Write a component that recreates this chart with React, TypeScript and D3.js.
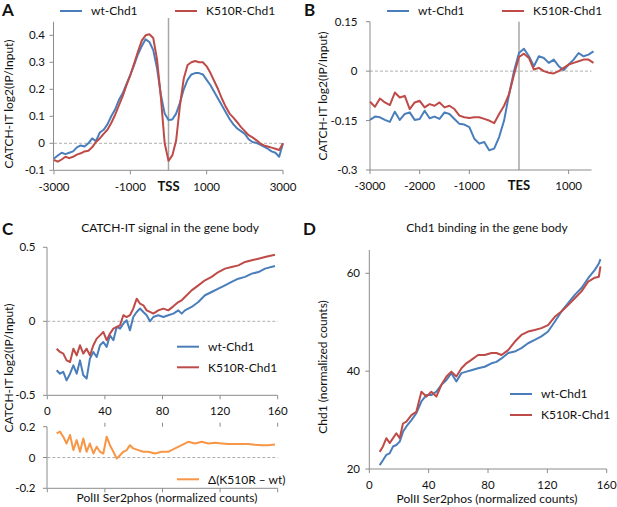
import * as d3 from "d3";

// ---------- data ----------
// A: CATCH-IT around TSS
const A_X = [-3000, -2900, -2800, -2700, -2600, -2500, -2400, -2300, -2200, -2100, -2000, -1900, -1800, -1700, -1600, -1500, -1400, -1300, -1200, -1100, -1000, -900, -800, -700, -600, -500, -400, -300, -200, -100, 0, 100, 200, 300, 400, 500, 600, 700, 800, 900, 1000, 1100, 1200, 1300, 1400, 1500, 1600, 1700, 1800, 1900, 2000, 2100, 2200, 2300, 2400, 2500, 2600, 2700, 2800, 2900, 3000];
const A_WT = [-0.056, -0.045, -0.035, -0.04, -0.035, -0.03, -0.015, -0.008, -0.012, 0.0, 0.018, 0.008, 0.04, 0.05, 0.07, 0.1, 0.125, 0.16, 0.185, 0.22, 0.253, 0.29, 0.33, 0.36, 0.385, 0.375, 0.345, 0.278, 0.18, 0.11, 0.086, 0.088, 0.11, 0.15, 0.2, 0.235, 0.255, 0.26, 0.26, 0.255, 0.235, 0.215, 0.19, 0.165, 0.14, 0.115, 0.09, 0.07, 0.055, 0.045, 0.035, 0.015, 0.005, 0.002, -0.005, -0.012, -0.02, -0.03, -0.035, -0.05, 0.0];
const A_K510R = [-0.062, -0.068, -0.06, -0.05, -0.055, -0.05, -0.042, -0.037, -0.03, -0.028, -0.015, 0.005, 0.018, 0.035, 0.05, 0.075, 0.105, 0.14, 0.175, 0.215, 0.253, 0.295, 0.34, 0.38, 0.4, 0.404, 0.39, 0.31, 0.17, 0.0, -0.065, -0.045, 0.01, 0.14, 0.24, 0.29, 0.3, 0.305, 0.3, 0.3, 0.285, 0.26, 0.23, 0.2, 0.165, 0.135, 0.11, 0.095, 0.078, 0.06, 0.045, 0.03, 0.022, 0.012, 0.0, -0.008, -0.012, -0.016, -0.02, -0.025, 0.0];
const A_YTICKS = [-0.1, 0, 0.1, 0.2, 0.3, 0.4];
const A_XTICKS = [-3000, -1000, 0, 1000, 3000];
const A_XLABELS = ["-3000", "-1000", "TSS", "1000", "3000"];

// B: CATCH-IT around TES
const B_X = [-3000, -2900, -2800, -2700, -2600, -2500, -2400, -2300, -2200, -2100, -2000, -1900, -1800, -1700, -1600, -1500, -1400, -1300, -1200, -1100, -1000, -900, -800, -700, -600, -500, -400, -300, -200, -100, 0, 100, 200, 300, 400, 500, 600, 700, 800, 900, 1000, 1100, 1200, 1300, 1400, 1500];
const B_WT = [-0.148, -0.138, -0.14, -0.148, -0.154, -0.123, -0.148, -0.13, -0.125, -0.148, -0.145, -0.12, -0.143, -0.138, -0.145, -0.125, -0.13, -0.145, -0.16, -0.162, -0.17, -0.205, -0.22, -0.215, -0.24, -0.235, -0.2, -0.15, -0.07, 0.0, 0.055, 0.068, 0.045, 0.015, 0.045, 0.04, 0.025, 0.035, 0.015, 0.003, 0.02, 0.035, 0.055, 0.045, 0.05, 0.06];
const B_K510R = [-0.093, -0.108, -0.083, -0.095, -0.103, -0.065, -0.08, -0.075, -0.115, -0.095, -0.09, -0.11, -0.1, -0.105, -0.095, -0.11, -0.105, -0.115, -0.135, -0.14, -0.142, -0.14, -0.14, -0.145, -0.15, -0.158, -0.13, -0.105, -0.07, -0.01, 0.043, 0.053, 0.04, 0.005, 0.01, 0.0, -0.005, -0.007, 0.0, 0.01, 0.02, 0.025, 0.03, 0.035, 0.035, 0.025];
const B_YTICKS = [-0.3, -0.15, 0, 0.15];
const B_XTICKS = [-3000, -2000, -1000, 0, 1000];
const B_XLABELS = ["-3000", "-2000", "-1000", "TES", "1000"];

// C: CATCH-IT vs PolII Ser2phos
const C_X = [6.5, 8.8, 11.1, 13.4, 15.8, 18.1, 20.4, 22.7, 25.0, 27.3, 29.6, 32.0, 34.3, 36.6, 38.9, 41.2, 43.5, 45.9, 48.2, 50.5, 52.8, 55.1, 57.4, 59.7, 62.1, 64.4, 66.7, 69.0, 71.3, 73.6, 77.1, 80.6, 84.0, 87.5, 91.0, 93.3, 95.6, 100.2, 104.9, 109.5, 114.1, 118.8, 123.4, 128.0, 132.7, 137.3, 142.0, 146.6, 151.2, 158.1];
const C_WT = [-0.331, -0.354, -0.342, -0.399, -0.354, -0.297, -0.354, -0.264, -0.365, -0.387, -0.252, -0.207, -0.241, -0.162, -0.14, -0.173, -0.095, -0.128, -0.038, -0.05, -0.016, 0.007, -0.061, 0.029, 0.063, 0.086, 0.063, 0.041, 0.0, 0.029, 0.041, 0.029, 0.041, 0.052, 0.074, 0.052, 0.074, 0.097, 0.13, 0.176, 0.198, 0.221, 0.243, 0.266, 0.288, 0.3, 0.322, 0.333, 0.356, 0.374];
const C_K510R = [-0.185, -0.207, -0.218, -0.264, -0.275, -0.185, -0.23, -0.162, -0.218, -0.185, -0.23, -0.162, -0.117, -0.095, -0.072, -0.128, -0.083, -0.05, -0.038, -0.027, 0.041, 0.029, 0.041, 0.086, 0.153, 0.119, 0.108, 0.074, 0.063, 0.052, 0.074, 0.086, 0.074, 0.101, 0.13, 0.142, 0.164, 0.209, 0.243, 0.277, 0.3, 0.333, 0.356, 0.367, 0.378, 0.401, 0.412, 0.423, 0.435, 0.45];
const C_DX = [6.5, 8.8, 11.1, 13.4, 15.8, 18.1, 20.4, 22.7, 25.0, 27.3, 29.6, 32.0, 34.3, 36.6, 38.9, 41.2, 43.5, 45.9, 48.2, 50.5, 52.8, 55.1, 57.4, 59.7, 63.2, 66.7, 70.1, 74.8, 79.4, 84.0, 88.7, 93.3, 97.9, 102.6, 107.2, 111.8, 116.5, 121.1, 125.7, 130.4, 135.0, 139.6, 144.2, 148.9, 153.5, 158.1];
const C_DELTA = [0.157, 0.168, 0.135, 0.091, 0.146, 0.048, 0.113, 0.037, 0.124, 0.037, 0.091, 0.026, 0.07, 0.037, 0.026, 0.135, 0.08, 0.037, -0.007, 0.015, 0.037, 0.048, 0.08, 0.059, 0.048, 0.037, 0.037, 0.026, 0.037, 0.037, 0.059, 0.08, 0.102, 0.091, 0.102, 0.091, 0.095, 0.091, 0.087, 0.087, 0.087, 0.087, 0.083, 0.08, 0.08, 0.085];
const C_YTICKS = [-0.5, 0, 0.5];
const C_DYTICKS = [-0.2, 0, 0.2];
const XTICKS_160 = [0, 40, 80, 120, 160];

// D: Chd1 binding vs PolII Ser2phos
const D_X = [7.0, 9.2, 11.5, 13.7, 16.0, 18.2, 20.5, 22.7, 25.0, 28.4, 31.7, 35.1, 38.5, 41.8, 45.2, 48.6, 52.0, 55.3, 58.7, 62.1, 65.4, 68.8, 73.3, 77.8, 82.3, 85.7, 89.1, 93.6, 98.0, 102.5, 107.0, 111.5, 116.0, 120.5, 125.0, 129.5, 134.0, 138.5, 143.0, 147.5, 152.0, 154.7, 155.8];
const D_WT = [20.8, 21.8, 22.9, 23.2, 24.6, 24.9, 25.6, 27.6, 28.7, 30.0, 31.4, 33.8, 35.1, 35.1, 35.8, 37.2, 38.2, 39.6, 37.9, 39.6, 39.9, 40.2, 40.6, 40.9, 41.6, 41.9, 42.6, 43.7, 44.0, 44.7, 45.7, 46.4, 47.1, 48.1, 50.1, 52.2, 53.9, 55.6, 57.0, 59.0, 60.7, 62.0, 62.9];
const D_K510R = [23.5, 24.6, 26.3, 25.3, 26.3, 27.3, 26.3, 29.3, 29.7, 31.0, 31.7, 35.8, 34.8, 35.8, 34.8, 37.2, 38.9, 39.9, 38.9, 40.6, 41.6, 42.3, 43.3, 43.3, 43.7, 43.7, 43.3, 44.3, 46.0, 47.4, 48.1, 48.4, 48.8, 49.4, 51.1, 52.2, 53.5, 54.9, 56.3, 58.3, 59.1, 59.3, 61.4];
const D_YTICKS = [20, 40, 60];

// ---------- style ----------
const BLUE = "#4a7ebb";
const RED = "#be4b48";
const ORANGE = "#f79646";
const AXIS = "#8c8c8c";
const GRID = "#a6a6a6";
const FONT = "Lato, 'Open Sans', sans-serif";

type Scale = d3.ScaleLinear<number, number>;

function Series({ x, y, xs, ys, color }: { x: Scale; y: Scale; xs: number[]; ys: number[]; color: string }) {
  const line = d3.line<number>().x((d) => x(d)).y((_, i) => y(ys[i]));
  return <path d={line(xs) ?? ""} fill="none" stroke={color} strokeWidth={2} strokeLinejoin="round" />;
}

function YAxis({ y, x0, ticks, top, labelX }: { y: Scale; x0: number; ticks: number[]; top?: number; labelX: number }) {
  const r = y.range();
  return (
    <g>
      <line x1={x0} x2={x0} y1={r[0]} y2={top ?? r[1]} stroke={AXIS} />
      {ticks.map((t) => (
        <g key={t}>
          <line x1={x0 - 4} x2={x0} y1={y(t)} y2={y(t)} stroke={AXIS} />
          <text x={labelX} y={y(t)} dy="0.35em" textAnchor="end" fontSize={11.5}>{String(t)}</text>
        </g>
      ))}
    </g>
  );
}

function XAxis({ x, y0, ticks, labels, labelY, skip }: { x: Scale; y0: number; ticks: number[]; labels?: string[]; labelY?: number; skip?: number }) {
  const r = x.range();
  return (
    <g>
      <line x1={r[0]} x2={r[1]} y1={y0} y2={y0} stroke={AXIS} />
      {ticks.map((t, i) => (
        <g key={t}>
          {t !== skip && <line x1={x(t)} x2={x(t)} y1={y0} y2={y0 + 4} stroke={AXIS} />}
          {labels && (
            <text
              x={x(t)}
              y={labelY}
              textAnchor="middle"
              fontSize={labels[i].startsWith("T") ? 13 : 11.5}
              fontWeight={labels[i].startsWith("T") ? "bold" : "normal"}
            >
              {labels[i]}
            </text>
          )}
        </g>
      ))}
    </g>
  );
}

function Legend({ x, y, color, label }: { x: number; y: number; color: string; label: string }) {
  return (
    <g>
      <line x1={x} x2={x + 22} y1={y} y2={y} stroke={color} strokeWidth={2} />
      <text x={x + 31} y={y} dy="0.35em" fontSize={12}>{label}</text>
    </g>
  );
}

function ZeroLine({ x, y }: { x: Scale; y: Scale }) {
  const r = x.range();
  return <line x1={r[0]} x2={r[1]} y1={y(0)} y2={y(0)} stroke="#9a9a9a" strokeDasharray="3,2" strokeWidth={0.8} />;
}

function YTitle({ x, y, text }: { x: number; y: number; text: string }) {
  return (
    <text transform={`translate(${x},${y}) rotate(-90)`} textAnchor="middle" fontSize={12}>{text}</text>
  );
}

export default function App() {
  const xA = d3.scaleLinear([-3000, 3000], [54, 283]);
  const yA = d3.scaleLinear([-0.1, 0.45], [170.3, 21.8]);

  const xB = d3.scaleLinear([-3000, 1460], [370, 591.5]);
  const yB = d3.scaleLinear([-0.3, 0.15], [170, 21.7]);

  const xC = d3.scaleLinear([0, 160], [47.3, 277.7]);
  const yC = d3.scaleLinear([-0.5, 0.5], [395.3, 247.3]);
  const yCd = d3.scaleLinear([-0.2, 0.2], [488.3, 426.7]);

  const xD = d3.scaleLinear([0, 160], [369.3, 606.7]);
  const yD = d3.scaleLinear([20, 60], [469, 273.3]);

  return (
    <svg
      width={617}
      height={507}
      style={{ position: "absolute", left: 0, top: 0, background: "#fff" }}
      fontFamily={FONT}
      fill="#111"
    >
      {/* ---- A ---- */}
      <text x={2} y={16} fontSize={17} fontWeight="bold">A</text>
      <Legend x={60} y={11} color={BLUE} label="wt-Chd1" />
      <Legend x={175} y={11} color={RED} label="K510R-Chd1" />
      <ZeroLine x={xA} y={yA} />
      <line x1={xA(0)} x2={xA(0)} y1={18} y2={yA(-0.1)} stroke={GRID} strokeWidth={1.5} />
      <YAxis y={yA} x0={53.5} ticks={A_YTICKS} labelX={45} />
      <XAxis x={xA} y0={yA(-0.1)} ticks={A_XTICKS} labels={A_XLABELS} labelY={191} skip={0} />
      <Series x={xA} y={yA} xs={A_X} ys={A_WT} color={BLUE} />
      <Series x={xA} y={yA} xs={A_X} ys={A_K510R} color={RED} />
      <YTitle x={12.5} y={104} text="CATCH-IT log2(IP/Input)" />

      {/* ---- B ---- */}
      <text x={304} y={16} fontSize={17} fontWeight="bold">B</text>
      <Legend x={387} y={11} color={BLUE} label="wt-Chd1" />
      <Legend x={502} y={11} color={RED} label="K510R-Chd1" />
      <ZeroLine x={xB} y={yB} />
      <line x1={xB(0)} x2={xB(0)} y1={21.7} y2={yB(-0.3)} stroke={GRID} strokeWidth={1.5} />
      <YAxis y={yB} x0={370} ticks={B_YTICKS} labelX={357.5} />
      <XAxis x={xB} y0={yB(-0.3)} ticks={B_XTICKS} labels={B_XLABELS} labelY={190} skip={0} />
      <Series x={xB} y={yB} xs={B_X} ys={B_WT} color={BLUE} />
      <Series x={xB} y={yB} xs={B_X} ys={B_K510R} color={RED} />
      <YTitle x={327} y={96} text="CATCH-IT log2(IP/Input)" />

      {/* ---- C ---- */}
      <text x={2} y={235} fontSize={17} fontWeight="bold">C</text>
      <text x={170} y={232} textAnchor="middle" fontSize={12}>CATCH-IT signal in the gene body</text>
      <ZeroLine x={xC} y={yC} />
      <YAxis y={yC} x0={47} ticks={C_YTICKS} labelX={35.5} />
      <XAxis x={xC} y0={yC(-0.5)} ticks={XTICKS_160} labels={XTICKS_160.map(String)} labelY={415} />
      <Series x={xC} y={yC} xs={C_X} ys={C_WT} color={BLUE} />
      <Series x={xC} y={yC} xs={C_X} ys={C_K510R} color={RED} />
      <Legend x={177} y={346.7} color={BLUE} label="wt-Chd1" />
      <Legend x={177} y={367.3} color={RED} label="K510R-Chd1" />
      <YTitle x={12.5} y={368} text="CATCH-IT log2(IP/Input)" />

      <ZeroLine x={xC} y={yCd} />
      <YAxis y={yCd} x0={47} ticks={C_DYTICKS} labelX={35.5} />
      <XAxis x={xC} y0={yCd(-0.2)} ticks={XTICKS_160} />
      {XTICKS_160.slice(1).map((t) => (
        <line key={t} x1={xC(t)} x2={xC(t)} y1={yCd(0.2) - 4} y2={yCd(0.2)} stroke={AXIS} />
      ))}
      <Series x={xC} y={yCd} xs={C_DX} ys={C_DELTA} color={ORANGE} />
      <Legend x={177} y={479.3} color={ORANGE} label="Δ(K510R – wt)" />
      <text x={167} y={502} textAnchor="middle" fontSize={12}>PolII Ser2phos (normalized counts)</text>

      {/* ---- D ---- */}
      <text x={303} y={235} fontSize={17} fontWeight="bold">D</text>
      <text x={487} y={232} textAnchor="middle" fontSize={12}>Chd1 binding in the gene body</text>
      <YAxis y={yD} x0={369.3} ticks={D_YTICKS} top={250} labelX={360} />
      <XAxis x={xD} y0={yD(20)} ticks={XTICKS_160} labels={XTICKS_160.map(String)} labelY={489} />
      <Series x={xD} y={yD} xs={D_X} ys={D_WT} color={BLUE} />
      <Series x={xD} y={yD} xs={D_X} ys={D_K510R} color={RED} />
      <Legend x={510} y={394} color={BLUE} label="wt-Chd1" />
      <Legend x={510} y={415} color={RED} label="K510R-Chd1" />
      <YTitle x={327} y={367} text="Chd1 (normalized counts)" />
      <text x={487} y={503} textAnchor="middle" fontSize={12}>PolII Ser2phos (normalized counts)</text>
    </svg>
  );
}
